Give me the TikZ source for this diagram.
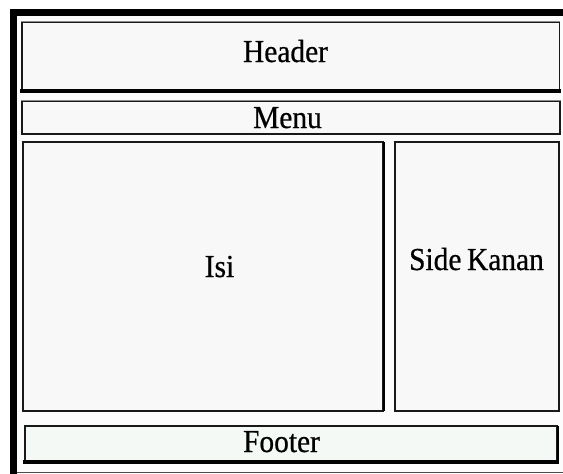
\documentclass[tikz,border=0pt]{standalone}
\usepackage{fontspec}
\setmainfont[FakeStretch=0.92, FakeBold=0.6, WordSpace=0.75]{Liberation Serif}
\begin{document}
\begin{tikzpicture}[x=1pt,y=-1pt,
  panel/.style={draw=black!90, line width=1.8pt, fill=panelgray, inner sep=0pt, rectangle},
  caption/.style={anchor=base, inner sep=0pt, text=black, font=\fontsize{32}{38}\selectfont},
  shadowedge/.style={draw=black, line width=3.4pt},
  lightedge/.style={draw=black!45, line width=1.2pt}]
\definecolor{panelgray}{HTML}{F8F8F8}
\definecolor{footergreen}{HTML}{F4F9F6}
\useasboundingbox (0,0) rectangle (563,474);
\fill[white] (0,0) rectangle (563,474);
\fill[white!99!black] (17,16) rectangle (563,472);
% outer frame
\fill[black] (10,9) rectangle (17,474);
\fill[black] (10,9) rectangle (563,16);
\draw[black!70, line width=1pt] (17,472.5) -- (563,472.5);
% layout panels
\node[panel, minimum width=537.5pt, minimum height=68pt] (header) at (290.75,56) {};
\node[panel, minimum width=538pt, minimum height=33pt] (menu) at (291,117.5) {};
\node[panel, minimum width=360pt, minimum height=269pt] (isi) at (203,276.5) {};
\node[panel, minimum width=164pt, minimum height=269pt] (side) at (477,276.5) {};
\node[panel, fill=footergreen, minimum width=532pt, minimum height=35pt] (footer) at (291,443.5) {};
% edge accents
\draw[lightedge] (header.north west) -- (header.north east);
\draw[lightedge] (menu.north west) -- (menu.north east);
\draw[shadowedge] ([xshift=-0.9pt]header.south west) -- ([xshift=0.9pt]header.south east);
\draw[shadowedge] ([xshift=-0.9pt]footer.south west) -- ([xshift=0.9pt]footer.south east);
\draw[black, line width=2.6pt] ([yshift=-0.9pt]footer.north east) -- ([yshift=0.9pt]footer.south east);
\draw[black, line width=2.6pt] ([yshift=-0.9pt]isi.north east) -- ([yshift=0.9pt]isi.south east);
% captions
\node[caption] (headertext) at (285.5,62) {Header};
\node[caption] (menutext) at (287.5,128) {Menu};
\node[caption] (isitext) at (219.5,277) {Isi};
\node[caption] (sidetext) at (476.5,270) {Side Kanan};
\node[caption] (footertext) at (281.5,452) {Footer};
\end{tikzpicture}
\end{document}
